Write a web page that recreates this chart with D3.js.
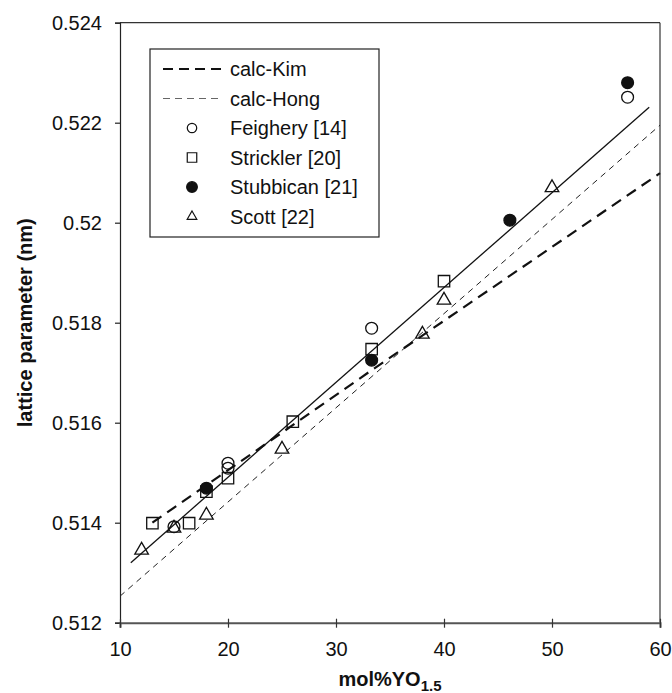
<!DOCTYPE html>
<html>
<head>
<meta charset="utf-8">
<script src="https://cdn.jsdelivr.net/npm/d3@7"></script>
<style>
  html, body { margin: 0; padding: 0; background: #fff; }
  svg text { font-family: "Liberation Sans", Arial, sans-serif; fill: #111; }
</style>
</head>
<body>
<svg id="chart" width="672" height="693"></svg>
<script>
// ---- data ---------------------------------------------------
const xTicks = [10, 20, 30, 40, 50, 60];
const yTicks = [0.512, 0.514, 0.516, 0.518, 0.52, 0.522, 0.524];
const yTickLabels = ["0.512", "0.514", "0.516", "0.518", "0.52", "0.522", "0.524"];

const feighery = [[15, 0.51392], [20, 0.51519], [20, 0.51509], [33.3, 0.51789], [57, 0.52251]];
const strickler = [[13, 0.51399], [16.4, 0.51399], [18, 0.51462], [20, 0.51489], [26, 0.51602], [33.3, 0.51747], [40, 0.51883]];
const stubbican = [[18, 0.51469], [33.3, 0.51725], [46.1, 0.52005], [57, 0.5228]];
const scott = [[12, 0.51345], [15, 0.51389], [18, 0.51415], [25, 0.51547], [38, 0.51777], [40, 0.51845], [50, 0.5207]];

const calcKim = [[13, 0.5140], [20, 0.51505], [33.3, 0.51705], [60, 0.52099]];
const calcHong = [[10, 0.51253], [60, 0.52195]];
const fitLine = [[11, 0.5132], [59, 0.52231]];

const legendLabels = ["calc-Kim", "calc-Hong", "Feighery [14]", "Strickler [20]", "Stubbican [21]", "Scott [22]"];

// ---- layout --------------------------------------------------
const svg = d3.select("#chart");
const L = 120, R = 660, T = 22.7, B = 622.7;
const FS = 20;

const x = d3.scaleLinear().domain([10, 60]).range([L, R]);
const y = d3.scaleLinear().domain([0.512, 0.524]).range([B, T]);

// frame
svg.append("line").attr("x1", L).attr("x2", R).attr("y1", T).attr("y2", T)
    .attr("stroke", "#333").attr("stroke-width", 1.2);
svg.append("line").attr("x1", R).attr("x2", R).attr("y1", T).attr("y2", B)
    .attr("stroke", "#333").attr("stroke-width", 1.2);

// y axis
const yAxis = d3.axisLeft(y).tickValues(yTicks).tickSize(5)
    .tickFormat((d, i) => yTickLabels[i]);
const gy = svg.append("g").attr("transform", `translate(${L},0)`).call(yAxis);
gy.select(".domain").attr("stroke", "#222").attr("stroke-width", 1.2);
gy.selectAll(".tick line").attr("stroke", "#222").attr("stroke-width", 1.2);
gy.selectAll(".tick text").attr("x", -18).attr("dy", "0.35em")
    .style("font-size", FS + "px").attr("fill", "#111")
    .style("font-family", "Liberation Sans, Arial, sans-serif");

// x axis
const xAxis = d3.axisBottom(x).tickValues(xTicks).tickSize(5).tickFormat(d3.format("d"));
const gx = svg.append("g").attr("transform", `translate(0,${B})`).call(xAxis);
gx.select(".domain").attr("stroke", "#555").attr("stroke-width", 2);
gx.selectAll(".tick line").attr("y1", -4).attr("stroke", "#333").attr("stroke-width", 1.2);
gx.selectAll(".tick text").attr("y", 19).attr("dy", "0.71em")
    .style("font-size", FS + "px").attr("fill", "#111")
    .style("font-family", "Liberation Sans, Arial, sans-serif");

// axis titles
const xt = svg.append("text").attr("x", (L + R) / 2).attr("y", 686)
    .attr("text-anchor", "middle").style("font-size", FS + "px").style("font-weight", "bold");
xt.append("tspan").text("mol%YO");
xt.append("tspan").attr("dy", 5).style("font-size", "15px").text("1.5");

svg.append("text")
    .attr("transform", `translate(32,${(T + B) / 2}) rotate(-90)`)
    .attr("text-anchor", "middle")
    .style("font-size", FS + "px").style("font-weight", "bold")
    .text("lattice parameter (nm)");

// ---- lines ---------------------------------------------------
const line = d3.line().x(d => x(d[0])).y(d => y(d[1]));

svg.append("path").datum(calcHong).attr("d", line)
    .attr("fill", "none").attr("stroke", "#222").attr("stroke-width", 1)
    .attr("stroke-dasharray", "6,5");
svg.append("path").datum(calcKim).attr("d", line)
    .attr("fill", "none").attr("stroke", "#111").attr("stroke-width", 2.2)
    .attr("stroke-dasharray", "11,7");
svg.append("path").datum(fitLine).attr("d", line)
    .attr("fill", "none").attr("stroke", "#111").attr("stroke-width", 1.3);

// ---- markers -------------------------------------------------
const sym = {
    circle: d3.symbol().type(d3.symbolCircle).size(110),
    square: d3.symbol().type(d3.symbolSquare).size(130),
    triangle: d3.symbol().type(d3.symbolTriangle).size(80)
};

function drawPoints(data, shape, filled) {
    svg.append("g").selectAll("path").data(data).join("path")
        .attr("transform", d => `translate(${x(d[0])},${y(d[1])})`)
        .attr("d", sym[shape])
        .attr("fill", filled ? "#111" : "none")
        .attr("stroke", "#111").attr("stroke-width", 1.3);
}
drawPoints(scott, "triangle", false);
drawPoints(strickler, "square", false);
drawPoints(feighery, "circle", false);
drawPoints(stubbican, "circle", true);

// ---- legend --------------------------------------------------
const leg = svg.append("g");
leg.append("rect").attr("x", 150).attr("y", 49).attr("width", 229).attr("height", 188)
    .attr("fill", "#fff").attr("stroke", "#222").attr("stroke-width", 1.2);

const rowY = i => 69 + i * 29.5;
leg.append("line").attr("x1", 163).attr("x2", 222).attr("y1", rowY(0)).attr("y2", rowY(0))
    .attr("stroke", "#111").attr("stroke-width", 2).attr("stroke-dasharray", "10,6");
leg.append("line").attr("x1", 163).attr("x2", 222).attr("y1", rowY(1)).attr("y2", rowY(1))
    .attr("stroke", "#666").attr("stroke-width", 1).attr("stroke-dasharray", "7,5");

const legSym = [
    null, null,
    { s: d3.symbol().type(d3.symbolCircle).size(70), f: false },
    { s: d3.symbol().type(d3.symbolSquare).size(90), f: false },
    { s: d3.symbol().type(d3.symbolCircle).size(90), f: true },
    { s: d3.symbol().type(d3.symbolTriangle).size(40), f: false }
];
legSym.forEach((m, i) => {
    if (!m) return;
    leg.append("path").attr("transform", `translate(192,${rowY(i)})`)
        .attr("d", m.s).attr("fill", m.f ? "#111" : "none")
        .attr("stroke", "#111").attr("stroke-width", 1.2);
});
leg.selectAll("text.lab").data(legendLabels).join("text")
    .attr("class", "lab")
    .attr("x", 230).attr("y", (d, i) => rowY(i)).attr("dy", "0.35em")
    .style("font-size", FS + "px")
    .text(d => d);
</script>
</body>
</html>
